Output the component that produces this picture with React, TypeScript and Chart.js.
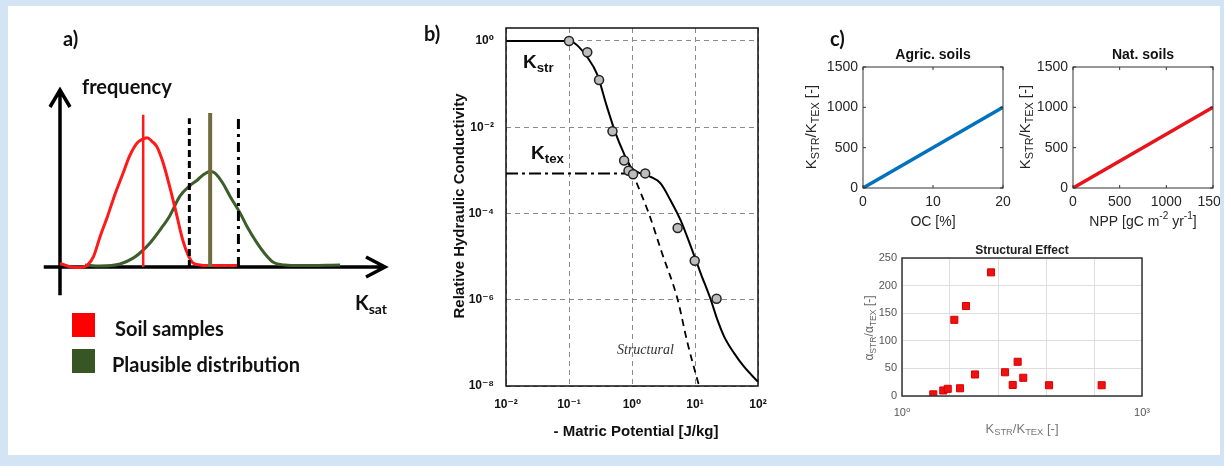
import React, { useEffect, useRef } from 'react';
import { Chart, registerables } from 'chart.js';
Chart.register(...registerables);

const W = 1224;
const H = 466;
const SANS = "'Liberation Sans', Arial, 'DejaVu Sans', sans-serif";
const CAL = "Lato, 'Open Sans', sans-serif";
const SERIF = "'Liberation Serif', 'DejaVu Serif', serif";

// ---------- Panel a: schematic Ksat distributions ----------
const ksatSample = [0, 0.35, 0.62, 0.85, 1.03, 1.23, 1.45, 1.69, 1.94, 2.15, 2.37, 2.52, 2.68, 2.83, 2.98, 3.17, 3.38, 3.57, 3.78, 3.94, 4.09, 4.31, 4.52, 5.54];
const freqSample = [0.02, 0.0, -0.003, 0.012, 0.058, 0.17, 0.28, 0.41, 0.53, 0.63, 0.7, 0.72, 0.73, 0.71, 0.68, 0.59, 0.45, 0.31, 0.15, 0.068, 0.023, 0.011, 0.008, 0.008];
const ksatPlausible = [0.77, 1.23, 1.85, 2.25, 2.46, 2.77, 3.08, 3.38, 3.69, 4.0, 4.22, 4.4, 4.62, 4.77, 5.02, 5.23, 5.54, 5.78, 6.06, 6.31, 6.55, 6.92, 7.38, 8.62];
const freqPlausible = [0.011, 0.006, 0.017, 0.05, 0.079, 0.136, 0.21, 0.29, 0.4, 0.46, 0.49, 0.52, 0.54, 0.53, 0.47, 0.4, 0.305, 0.22, 0.136, 0.073, 0.028, 0.011, 0.008, 0.011];
const markerKsat = [2.56, 4.62, 3.98, 5.49]; // sample mean, plausible mean, lower, upper bound
const markerTop = [0.86, 0.87, 0.84, 0.845];
const legendLabels = ['Soil samples', 'Plausible distribution'];
const legendColors = ['#ff0000', '#375623'];

// ---------- Panel b: relative hydraulic conductivity ----------
const potentialTicks = [0.01, 0.1, 1, 10, 100];
const potentialLabels = ['10⁻²', '10⁻¹', '10⁰', '10¹', '10²'];
const conductTicks = [1e-8, 1e-6, 1e-4, 1e-2, 1];
const conductLabels = ['10⁻⁸', '10⁻⁶', '10⁻⁴', '10⁻²', '10⁰'];
const fitPsi = [0.01, 0.05, 0.1, 0.12, 0.142, 0.193, 0.279, 0.4, 0.55, 0.74, 0.95, 1.36, 1.97, 2.84, 4.1, 5.9, 8.6, 12.4, 17.8, 22.7, 29, 42, 60, 100];
const fitK = [1, 1, 1, 0.9, 0.74, 0.43, 0.17, 0.03, 0.0072, 0.0025, 0.0012, 0.00085, 0.00071, 0.0005, 0.0002, 7e-5, 1.7e-5, 4e-6, 1e-6, 3.4e-7, 1.4e-7, 5.7e-8, 2.8e-8, 1.25e-8];
const structPsi = [0.85, 1.2, 1.85, 3.0, 5.25, 7.6, 11.6];
const structK = [0.0017, 4.9e-4, 1e-4, 1.2e-5, 1.07e-6, 1e-7, 1e-8];
const texPsi = [0.01, 0.8];
const texK = [8.5e-4, 8.5e-4];
const measPsi = [0.1, 0.195, 0.3, 0.49, 0.75, 0.88, 1.04, 1.62, 5.3, 9.9, 22];
const measK = [1, 0.55, 0.124, 0.0081, 0.0017, 0.00098, 0.00081, 0.00085, 4.6e-5, 8e-6, 1.05e-6];

// ---------- Panel c ----------
const ocPercent = [0, 20];
const agricRatio = [0, 1000];
const ocTicks = [0, 10, 20];
const nppValues = [0, 1500];
const natRatio = [0, 1000];
const nppTicks = [0, 500, 1000, 1500];
const ratioTicks = [0, 500, 1000, 1500];
const effectK = [2.46, 3.28, 3.73, 5.31, 4.51, 6.31, 8.18, 12.96, 19.4, 24.2, 27.9, 32.8, 68.8, 313];
const effectAlpha = [3, 10, 13, 14, 138, 163, 39, 224, 43, 20, 62, 33, 19.5, 19.5];
const effectXTicks = [1, 3.98, 15.85, 63.1, 251.2, 1000];
const effectXLabels = ['10⁰', '', '', '', '', '10³'];
const effectYTicks = [0, 50, 100, 150, 200, 250];

type Seg = { t: string; s?: 'sub' | 'sup' };
function drawRich(ctx: CanvasRenderingContext2D, segs: Seg[], x: number, y: number, o: any) {
  ctx.save();
  ctx.translate(x, y);
  if (o.rot) ctx.rotate(o.rot);
  ctx.fillStyle = o.color || '#000';
  ctx.textBaseline = 'middle';
  ctx.textAlign = 'left';
  const sc = o.subScale ?? 0.72;
  const font = (sz: number) => `${o.italic ? 'italic ' : ''}${o.weight || 'normal'} ${sz}px ${o.family}`;
  let total = 0;
  const widths = segs.map((sg) => {
    ctx.font = font(sg.s ? o.size * sc : o.size);
    const w = ctx.measureText(sg.t).width;
    total += w;
    return w;
  });
  let cx = o.align === 'center' ? -total / 2 : 0;
  segs.forEach((sg, i) => {
    const sz = sg.s ? o.size * sc : o.size;
    ctx.font = font(sz);
    const dy = sg.s === 'sub' ? o.size * (o.subOff ?? 0.3) : sg.s === 'sup' ? -o.size * 0.38 : 0;
    ctx.fillText(sg.t, cx, dy);
    cx += widths[i];
  });
  ctx.restore();
}

const fixAxis = (size: number) => (s: any) => {
  if (s.isHorizontal()) s.height = size;
  else s.width = size;
  s.paddingLeft = 0;
  s.paddingRight = 0;
  s.paddingTop = 0;
  s.paddingBottom = 0;
};
const pad = (l: number, t: number, r: number, b: number, yw: number, xh: number) => ({
  left: l - yw,
  top: t,
  right: W - r,
  bottom: H - b - xh,
});
const setTicks = (vals: number[]) => (s: any) => {
  s.ticks = vals.map((v) => ({ value: v }));
};
const plain = (v: any) => String(v);
const framePlugin = (color: string, width: number) => ({
  id: 'frame',
  afterDatasetsDraw(chart: any) {
    const { ctx, chartArea: a } = chart;
    ctx.save();
    ctx.strokeStyle = color;
    ctx.lineWidth = width;
    ctx.strokeRect(a.left, a.top, a.right - a.left, a.bottom - a.top);
    ctx.restore();
  },
});
const inwardTicks = (len: number, color: string) => ({
  id: 'inTicks',
  afterDatasetsDraw(chart: any) {
    const { ctx, chartArea: a, scales } = chart;
    ctx.save();
    ctx.strokeStyle = color;
    ctx.lineWidth = 1;
    ctx.beginPath();
    scales.x.ticks.forEach((t: any) => {
      const p = scales.x.getPixelForValue(t.value);
      ctx.moveTo(p, a.bottom);
      ctx.lineTo(p, a.bottom - len);
      ctx.moveTo(p, a.top);
      ctx.lineTo(p, a.top + len);
    });
    scales.y.ticks.forEach((t: any) => {
      const p = scales.y.getPixelForValue(t.value);
      ctx.moveTo(a.left, p);
      ctx.lineTo(a.left + len, p);
      ctx.moveTo(a.right, p);
      ctx.lineTo(a.right - len, p);
    });
    ctx.stroke();
    ctx.restore();
  },
});
const textPlugin = (fn: (ctx: CanvasRenderingContext2D, chart: any) => void) => ({
  id: 'texts',
  afterDraw(chart: any) {
    fn(chart.ctx, chart);
  },
});
const baseOpts = {
  animation: false as const,
  responsive: false,
  events: [] as any[],
  plugins: { legend: { display: false }, tooltip: { enabled: false }, title: { display: false } },
};
const pts = (xs: number[], ys: number[]) => xs.map((x, i) => ({ x, y: ys[i] }));

function panelA(canvas: HTMLCanvasElement) {
  const markerStyles = [
    { color: '#ff1a1a', width: 2.5, dash: [] as number[] },
    { color: '#6f6b3e', width: 4, dash: [] as number[] },
    { color: '#000', width: 3, dash: [7, 4] },
    { color: '#000', width: 3, dash: [10, 5, 3, 5] },
  ];
  const markers = markerKsat.map((x, i) => ({
    data: [{ x, y: 0 }, { x, y: markerTop[i] }],
    borderColor: markerStyles[i].color,
    borderWidth: markerStyles[i].width,
    borderDash: markerStyles[i].dash,
    pointRadius: 0,
    order: 1,
  }));
  return new Chart(canvas, {
    type: 'line',
    data: {
      datasets: [
        ...markers,
        { data: pts(ksatSample, freqSample), borderColor: '#ff1a1a', borderWidth: 3, pointRadius: 0, cubicInterpolationMode: 'monotone', order: 3 },
        { data: pts(ksatPlausible, freqPlausible), borderColor: '#3b5e2b', borderWidth: 3, pointRadius: 0, cubicInterpolationMode: 'monotone', order: 4 },
      ] as any,
    },
    options: {
      ...baseOpts,
      layout: { padding: { left: 43.75, top: 90, right: W - 385, bottom: H - 295.3 } },
      scales: {
        x: { type: 'linear', display: false, min: -0.5, max: 10 },
        y: { type: 'linear', display: false, min: -0.16, max: 1 },
      },
    } as any,
    plugins: [
      {
        id: 'axesArrows',
        beforeDatasetsDraw(chart: any) {
          const { ctx, scales } = chart;
          const x0 = scales.x.getPixelForValue(0);
          const y0 = scales.y.getPixelForValue(0);
          const xTip = scales.x.getPixelForValue(10);
          const yTip = scales.y.getPixelForValue(1);
          const xStart = scales.x.getPixelForValue(-0.5);
          const yStart = scales.y.getPixelForValue(-0.16);
          ctx.save();
          ctx.strokeStyle = '#000';
          ctx.lineWidth = 3.5;
          ctx.lineJoin = 'miter';
          ctx.beginPath();
          ctx.moveTo(x0, yStart);
          ctx.lineTo(x0, yTip);
          ctx.moveTo(x0 - 10, yTip + 17);
          ctx.lineTo(x0, yTip);
          ctx.lineTo(x0 + 10, yTip + 17);
          ctx.moveTo(xStart, y0);
          ctx.lineTo(xTip, y0);
          ctx.moveTo(xTip - 19, y0 - 10);
          ctx.lineTo(xTip, y0);
          ctx.lineTo(xTip - 19, y0 + 10);
          ctx.stroke();
          ctx.restore();
        },
      },
      textPlugin((ctx) => {
        drawRich(ctx, [{ t: 'a)' }], 63, 40, { size: 20, weight: 'bold', family: CAL, color: '#111' });
        drawRich(ctx, [{ t: 'frequency' }], 82, 88, { size: 20, weight: 'bold', family: CAL, color: '#111' });
        drawRich(ctx, [{ t: 'K' }, { t: 'sat', s: 'sub' }], 355, 304, { size: 20, weight: 'bold', family: CAL, color: '#111', subScale: 0.7, subOff: 0.25 });
        legendLabels.forEach((lab, i) => {
          ctx.fillStyle = legendColors[i];
          ctx.fillRect(72, 313 + i * 36, 23, 24);
          drawRich(ctx, [{ t: lab }], i === 0 ? 115 : 112, 330 + i * 36, { size: 20, weight: 'bold', family: CAL, color: '#111' });
        });
      }),
    ],
  });
}

function panelB(canvas: HTMLCanvasElement) {
  const tickFont = { family: SANS, size: 12, weight: 'bold' };
  return new Chart(canvas, {
    type: 'line',
    data: {
      datasets: [
        { data: pts(measPsi, measK), showLine: false, pointRadius: 4.5, pointBackgroundColor: '#bdbdbd', pointBorderColor: '#222', pointBorderWidth: 1.5, order: 0 },
        { data: pts(fitPsi, fitK), borderColor: '#000', borderWidth: 2, pointRadius: 0, cubicInterpolationMode: 'monotone', order: 1 },
        { data: pts(structPsi, structK), borderColor: '#000', borderWidth: 1.8, borderDash: [7, 5], pointRadius: 0, cubicInterpolationMode: 'monotone', order: 2 },
        { data: pts(texPsi, texK), borderColor: '#000', borderWidth: 2, borderDash: [12, 4, 3, 4], pointRadius: 0, order: 3 },
      ] as any,
    },
    options: {
      ...baseOpts,
      layout: { padding: pad(506, 28, 758, 386, 60, 40) },
      scales: {
        x: {
          type: 'logarithmic', min: 0.01, max: 100,
          afterBuildTicks: setTicks(potentialTicks),
          afterFit: fixAxis(40),
          ticks: { autoSkip: false, maxRotation: 0, padding: 11, font: tickFont, color: '#111', callback: (_v: any, i: number) => potentialLabels[i] },
          grid: { color: '#8a8a8a', lineWidth: 1, drawTicks: false },
          border: { display: false, dash: [5, 4] },
        },
        y: {
          type: 'logarithmic', min: 1e-8, max: 2,
          afterBuildTicks: setTicks(conductTicks),
          afterFit: fixAxis(60),
          ticks: { autoSkip: false, padding: 12, font: tickFont, color: '#111', callback: (_v: any, i: number) => conductLabels[i] },
          grid: { color: '#8a8a8a', lineWidth: 1, drawTicks: false },
          border: { display: false, dash: [5, 4] },
        },
      },
    } as any,
    plugins: [
      framePlugin('#111', 1.5),
      textPlugin((ctx) => {
        drawRich(ctx, [{ t: 'b)' }], 424, 35, { size: 20, weight: 'bold', family: CAL, color: '#111' });
        drawRich(ctx, [{ t: 'K' }, { t: 'str', s: 'sub' }], 523, 63, { size: 19, weight: 'bold', family: SANS, color: '#111', subScale: 0.7, subOff: 0.27 });
        drawRich(ctx, [{ t: 'K' }, { t: 'tex', s: 'sub' }], 531, 154, { size: 19, weight: 'bold', family: SANS, color: '#111', subScale: 0.7, subOff: 0.27 });
        drawRich(ctx, [{ t: 'Structural' }], 617, 350, { size: 14, italic: true, family: SERIF, color: '#333' });
        drawRich(ctx, [{ t: 'Relative Hydraulic Conductivity' }], 460, 206, { size: 15, weight: 'bold', family: SANS, color: '#111', align: 'center', rot: -Math.PI / 2 });
        drawRich(ctx, [{ t: '- Matric Potential [J/kg]' }], 636, 432, { size: 15, weight: 'bold', family: SANS, color: '#111', align: 'center' });
      }),
    ],
  });
}

function smallLinePanel(canvas: HTMLCanvasElement, left: number, right: number, xs: number[], ys: number[], xTicks: number[], color: string, title: string, xTitle: Seg[], yTitleX: number, label: string | null) {
  const tickFont = { family: SANS, size: 14 };
  const xMax = xTicks[xTicks.length - 1];
  return new Chart(canvas, {
    type: 'line',
    data: { datasets: [{ data: pts(xs, ys), borderColor: color, borderWidth: 3.5, pointRadius: 0 }] as any },
    options: {
      ...baseOpts,
      layout: { padding: pad(left, 67, right, 188, 50, 30) },
      scales: {
        x: {
          type: 'linear', min: 0, max: xMax,
          afterBuildTicks: setTicks(xTicks), afterFit: fixAxis(30),
          ticks: { autoSkip: false, maxRotation: 0, padding: 6, font: tickFont, color: '#262626', callback: plain },
          grid: { display: false, drawTicks: false }, border: { display: false },
        },
        y: {
          type: 'linear', min: 0, max: 1500,
          afterBuildTicks: setTicks(ratioTicks), afterFit: fixAxis(50),
          ticks: { autoSkip: false, padding: 5, font: tickFont, color: '#262626', callback: plain },
          grid: { display: false, drawTicks: false }, border: { display: false },
        },
      },
    } as any,
    plugins: [
      framePlugin('#333', 1),
      inwardTicks(3, '#333'),
      textPlugin((ctx) => {
        const cx = (left + right) / 2;
        if (label) drawRich(ctx, [{ t: label }], 830, 40, { size: 20, weight: 'bold', family: CAL, color: '#111' });
        drawRich(ctx, [{ t: title }], cx, 55, { size: 14, weight: 'bold', family: SANS, color: '#111', align: 'center' });
        drawRich(ctx, xTitle, cx, 222, { size: 14, family: SANS, color: '#262626', align: 'center' });
        drawRich(ctx, [{ t: 'K' }, { t: 'STR', s: 'sub' }, { t: '/K' }, { t: 'TEX', s: 'sub' }, { t: ' [-]' }], yTitleX, 127, { size: 15, family: SANS, color: '#262626', align: 'center', rot: -Math.PI / 2 });
      }),
    ],
  });
}

function panelEffect(canvas: HTMLCanvasElement) {
  const tickFont = { family: SANS, size: 11 };
  return new Chart(canvas, {
    type: 'line',
    data: {
      datasets: [
        { data: pts(effectK, effectAlpha), showLine: false, pointStyle: 'rect', pointRadius: 5, pointBackgroundColor: '#ee1111', pointBorderColor: '#dd0000', pointBorderWidth: 1 },
      ] as any,
    },
    options: {
      ...baseOpts,
      layout: { padding: pad(902, 258, 1142, 396, 40, 30) },
      scales: {
        x: {
          type: 'logarithmic', min: 1, max: 1000,
          afterBuildTicks: setTicks(effectXTicks), afterFit: fixAxis(30),
          ticks: { autoSkip: false, maxRotation: 0, padding: 10, font: tickFont, color: '#555', callback: (_v: any, i: number) => effectXLabels[i] },
          grid: { color: '#dedede', drawTicks: false }, border: { display: false },
        },
        y: {
          type: 'linear', min: 0, max: 250,
          afterBuildTicks: setTicks(effectYTicks), afterFit: fixAxis(40),
          ticks: { autoSkip: false, padding: 5, font: tickFont, color: '#555', callback: plain },
          grid: { color: '#dedede', drawTicks: false }, border: { display: false },
        },
      },
    } as any,
    plugins: [
      framePlugin('#333', 1.5),
      textPlugin((ctx) => {
        drawRich(ctx, [{ t: 'Structural Effect' }], 1022, 251, { size: 12, weight: 'bold', family: SANS, color: '#222', align: 'center' });
        drawRich(ctx, [{ t: 'K' }, { t: 'STR', s: 'sub' }, { t: '/K' }, { t: 'TEX', s: 'sub' }, { t: ' [-]' }], 1022, 429, { size: 13, family: SANS, color: '#777', align: 'center' });
        drawRich(ctx, [{ t: 'α' }, { t: 'STR', s: 'sub' }, { t: '/α' }, { t: 'TEX', s: 'sub' }, { t: ' [-]' }], 870, 328, { size: 12, family: SANS, color: '#666', align: 'center', rot: -Math.PI / 2 });
      }),
    ],
  });
}

export default function App() {
  const r0 = useRef<HTMLCanvasElement>(null);
  const r1 = useRef<HTMLCanvasElement>(null);
  const r2 = useRef<HTMLCanvasElement>(null);
  const r3 = useRef<HTMLCanvasElement>(null);
  const r4 = useRef<HTMLCanvasElement>(null);
  const refs = [r0, r1, r2, r3, r4];
  useEffect(() => {
    const charts = [
      panelA(r0.current!),
      panelB(r1.current!),
      smallLinePanel(r2.current!, 863, 1003, ocPercent, agricRatio, ocTicks, '#0072bd', 'Agric. soils', [{ t: 'OC [%]' }], 812, 'c)'),
      smallLinePanel(r3.current!, 1073, 1213, nppValues, natRatio, nppTicks, '#e8141b', 'Nat. soils', [{ t: 'NPP [gC m' }, { t: '-2', s: 'sup' }, { t: ' yr' }, { t: '-1', s: 'sup' }, { t: ']' }], 1026, null),
      panelEffect(r4.current!),
    ];
    return () => charts.forEach((c) => c.destroy());
  }, []);
  return (
    <div style={{ position: 'absolute', left: 0, top: 0, width: W, height: H, background: '#d3e4f4', overflow: 'hidden' }}>
      <div style={{ position: 'absolute', left: 8, top: 6, width: 1212, height: 449, background: '#ffffff' }} />
      {refs.map((r, i) => (
        <canvas key={i} ref={r} width={W} height={H} style={{ position: 'absolute', left: 0, top: 0, width: W, height: H }} />
      ))}
      <div
        style={{
          position: 'absolute', left: 0, top: 0, width: W, height: H, boxSizing: 'border-box',
          borderStyle: 'solid', borderColor: '#d3e4f4', borderWidth: '6px 4px 11px 8px', pointerEvents: 'none',
        }}
      />
    </div>
  );
}
